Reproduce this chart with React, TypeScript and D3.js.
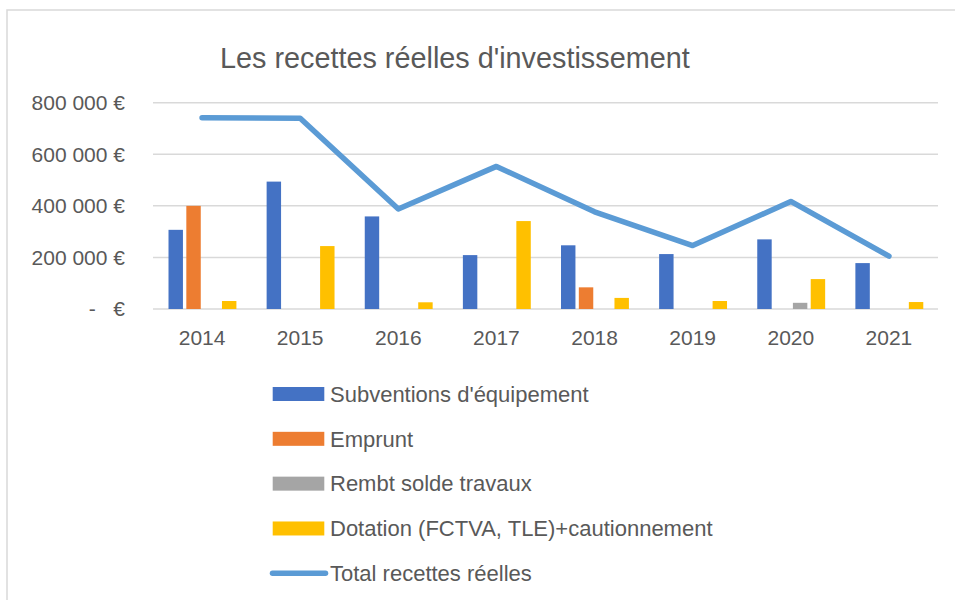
import React, { useRef, useEffect } from 'react';
import * as d3 from 'd3';

const years = ['2014', '2015', '2016', '2017', '2018', '2019', '2020', '2021'];
const subventions = [307000, 494000, 359000, 209000, 247000, 213000, 270000, 178000];
const emprunt = [400000, 0, 0, 0, 84000, 0, 0, 0];
const rembt = [0, 0, 0, 0, 0, 0, 24000, 0];
const dotation = [31000, 244000, 26000, 341000, 43000, 31000, 116000, 27000];
const total = [742000, 740000, 388000, 553000, 377000, 246000, 417000, 205000];
const yTicks = [0, 200000, 400000, 600000, 800000];

const seriesNames = [
    "Subventions d'équipement",
    'Emprunt',
    'Rembt solde travaux',
    'Dotation (FCTVA, TLE)+cautionnement',
];
const totalName = 'Total recettes réelles';
const colors = ['#4472C4', '#ED7D31', '#A5A5A5', '#FFC000'];
const lineColor = '#5B9BD5';
const textColor = '#595959';

const App = () => {
    const chart = useRef(null);

    useEffect(() => {
        const svg = d3.select(chart.current);
        svg.selectAll('*').remove();

        const left = 153, right = 938, top = 102.7, bottom = 309;
        const font = 'Liberation Sans, Arial, sans-serif';

        // outer frame, cut off at right and bottom like the screenshot
        svg.append('rect')
            .attr('x', 7).attr('y', 10)
            .attr('width', 1000).attr('height', 700)
            .attr('fill', 'white')
            .attr('stroke', '#D9D9D9')
            .attr('stroke-width', 1.5);

        svg.append('text')
            .attr('x', 220).attr('y', 68)
            .attr('font-family', font)
            .attr('font-size', 28.8)
            .attr('fill', textColor)
            .text("Les recettes réelles d'investissement");

        const x0 = d3.scaleBand().domain(years).range([left, right]);
        const keys = [0, 1, 2, 3];
        const x1 = d3.scaleBand()
            .domain(keys)
            .range([x0.bandwidth() * 0.158, x0.bandwidth() * 0.85])
            .paddingInner(0.19);
        const y = d3.scaleLinear().domain([0, 800000]).range([bottom, top]);

        // grid lines
        svg.append('g')
            .selectAll('line')
            .data(yTicks)
            .enter()
            .append('line')
            .attr('x1', left).attr('x2', right)
            .attr('y1', d => y(d)).attr('y2', d => y(d))
            .attr('stroke', '#D9D9D9')
            .attr('stroke-width', 1.5);

        // y axis labels
        svg.append('g')
            .selectAll('text')
            .data(yTicks)
            .enter()
            .append('text')
            .attr('x', 125)
            .attr('y', d => y(d))
            .attr('dy', '0.35em')
            .attr('text-anchor', 'end')
            .attr('font-family', font)
            .attr('font-size', 21)
            .attr('fill', textColor)
            .style('white-space', 'pre')
            .text(d => d === 0 ? '-   €' : d3.format(',')(d).replace(/,/g, ' ') + ' €');

        // x axis labels
        svg.append('g')
            .selectAll('text')
            .data(years)
            .enter()
            .append('text')
            .attr('x', d => x0(d) + x0.bandwidth() / 2)
            .attr('y', 345)
            .attr('text-anchor', 'middle')
            .attr('font-family', font)
            .attr('font-size', 21)
            .attr('fill', textColor)
            .text(d => d);

        const series = [subventions, emprunt, rembt, dotation];
        const groups = svg.append('g')
            .selectAll('g')
            .data(years)
            .enter()
            .append('g')
            .attr('transform', d => `translate(${x0(d)},0)`);

        groups.selectAll('rect')
            .data((d, i) => keys.map(k => ({ k, v: series[k][i] })).filter(e => e.v > 0))
            .enter()
            .append('rect')
            .attr('x', d => x1(d.k))
            .attr('y', d => y(d.v))
            .attr('width', x1.bandwidth())
            .attr('height', d => y(0) - y(d.v))
            .attr('fill', d => colors[d.k]);

        const line = d3.line()
            .x((d, i) => x0(years[i]) + x0.bandwidth() / 2)
            .y(d => y(d));

        svg.append('path')
            .datum(total)
            .attr('d', line)
            .attr('fill', 'none')
            .attr('stroke', lineColor)
            .attr('stroke-width', 5.5)
            .attr('stroke-linecap', 'round')
            .attr('stroke-linejoin', 'round');

        // legend
        const legendY = d3.scalePoint()
            .domain([...seriesNames, totalName])
            .range([394, 573.3]);

        const legend = svg.append('g');
        seriesNames.forEach((name, i) => {
            legend.append('rect')
                .attr('x', 272.7).attr('y', legendY(name) - 7)
                .attr('width', 51.6).attr('height', 14)
                .attr('fill', colors[i]);
            legend.append('text')
                .attr('x', 330).attr('y', legendY(name) + 7.7)
                .attr('font-family', font)
                .attr('font-size', 22)
                .attr('fill', textColor)
                .text(name);
        });
        legend.append('line')
            .attr('x1', 272.5).attr('x2', 325.5)
            .attr('y1', legendY(totalName)).attr('y2', legendY(totalName))
            .attr('stroke', lineColor)
            .attr('stroke-width', 5.5)
            .attr('stroke-linecap', 'round');
        legend.append('text')
            .attr('x', 330).attr('y', legendY(totalName) + 7.7)
            .attr('font-family', font)
            .attr('font-size', 22)
            .attr('fill', textColor)
            .text(totalName);
    }, []);

    return (
        <svg ref={chart} width={955} height={600}
            style={{ position: 'absolute', left: 0, top: 0, background: 'white' }} />
    );
};

export default App;
